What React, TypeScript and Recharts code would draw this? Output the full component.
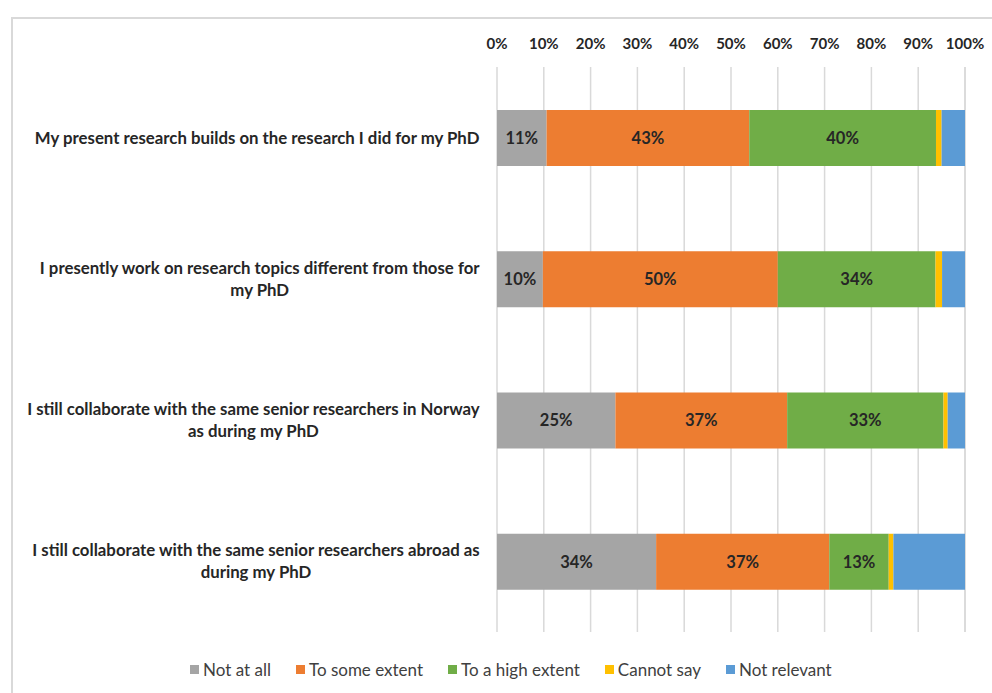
import React from "react";
import { BarChart, Bar, XAxis, YAxis, CartesianGrid, LabelList, Legend } from "recharts";

const categories = [
  "My present research builds on the research I did for my PhD",
  "I presently work on research topics different from those for\nmy PhD",
  "I still collaborate with the same senior researchers in Norway\nas during my PhD",
  "I still collaborate with the same senior researchers abroad as\nduring my PhD",
];
const notAtAll = [10.6, 9.8, 25.3, 34.0];
const someExtent = [43.3, 50.2, 36.7, 37.0];
const highExtent = [39.9, 33.7, 33.4, 12.7];
const cannotSay = [1.2, 1.4, 0.9, 1.0];
const notRelevant = [5.0, 4.9, 3.7, 15.3];
const xTicks = [0, 10, 20, 30, 40, 50, 60, 70, 80, 90, 100];

const seriesNames = ["Not at all", "To some extent", "To a high extent", "Cannot say", "Not relevant"];
const seriesKeys = ["notAtAll", "someExtent", "highExtent", "cannotSay", "notRelevant"];
const seriesColors = ["#A5A5A5", "#ED7D31", "#70AD47", "#FFC000", "#5B9BD5"];
const seriesLabeled = [true, true, true, false, false];

const data = categories.map((c, i) => ({
  category: c,
  notAtAll: notAtAll[i],
  someExtent: someExtent[i],
  highExtent: highExtent[i],
  cannotSay: cannotSay[i],
  notRelevant: notRelevant[i],
}));

const FONT = "Lato, 'Open Sans', sans-serif";
const CAT_SIZE = 16.8;
const LABEL_FONT = `bold ${CAT_SIZE}px Lato`;

let ctx: CanvasRenderingContext2D | null = null;
function measure(t: string): number {
  if (!ctx) {
    const c = document.createElement("canvas");
    ctx = c.getContext("2d");
  }
  if (!ctx) return t.length * 7.5;
  ctx.font = LABEL_FONT;
  return ctx.measureText(t).width;
}

function CatTick(props: any) {
  const { x, y, payload } = props;
  const lines = String(payload.value).split("\n");
  const maxW = Math.max(...lines.map(measure));
  const right = x - 9;
  const cx = right - maxW / 2;
  const lh = 22;
  const y0 = y - ((lines.length - 1) * lh) / 2;
  return (
    <text textAnchor="middle" fontFamily={FONT} fontWeight="bold" fontSize={CAT_SIZE} fill="#262626">
      {lines.map((l, i) => (
        <tspan key={i} x={cx} y={y0 + i * lh} dy="0.35em">
          {l}
        </tspan>
      ))}
    </text>
  );
}

function LegendContent() {
  return (
    <div style={{ display: "flex", alignItems: "center", fontFamily: FONT, fontSize: 17, color: "#404040", whiteSpace: "nowrap" }}>
      {seriesNames.map((n, i) => (
        <div key={n} style={{ display: "flex", alignItems: "center", marginRight: 25 }}>
          <span style={{ display: "inline-block", width: 9, height: 9, background: seriesColors[i], marginRight: 4 }} />
          <span>{n}</span>
        </div>
      ))}
    </div>
  );
}

export default function App() {
  return (
    <div style={{ position: "fixed", left: 0, top: 0, width: 992, height: 693, overflow: "hidden", background: "#fff" }}>
      <div
        style={{
          position: "absolute",
          left: 11,
          top: 17,
          width: 1200,
          height: 1000,
          borderTop: "2px solid #d9d9d9",
          borderLeft: "2px solid #d9d9d9",
        }}
      />
      <div style={{ position: "absolute", left: 0, top: 0 }}>
        <BarChart
          width={992}
          height={693}
          data={data}
          layout="vertical"
          margin={{ top: 37, right: 27, bottom: 61, left: 0 }}
          barSize={56}
        >
          <CartesianGrid horizontal={false} stroke="#d9d9d9" strokeWidth={1.5} />
          <XAxis
            type="number"
            orientation="top"
            domain={[0, 100]}
            ticks={xTicks}
            tickFormatter={(v: number) => `${v}%`}
            axisLine={false}
            tickLine={false}
            tickMargin={12}
            height={30}
            tick={{ fontFamily: FONT, fontWeight: "bold", fontSize: 15, fill: "#262626" }}
            interval={0}
          />
          <YAxis
            type="category"
            dataKey="category"
            width={497}
            axisLine={false}
            tickLine={false}
            tick={<CatTick />}
            interval={0}
          />
          {seriesKeys.map((k, i) => (
            <Bar key={k} dataKey={k} name={seriesNames[i]} stackId="a" fill={seriesColors[i]} isAnimationActive={false}>
              {seriesLabeled[i] ? (
                <LabelList
                  dataKey={k}
                  position="center"
                  formatter={(v: any) => `${Math.round(Number(v))}%`}
                  style={{ fontFamily: FONT, fontWeight: "bold", fontSize: 16.5, fill: "#262626" }}
                />
              ) : null}
            </Bar>
          ))}
          <Legend
            layout="horizontal"
            verticalAlign="middle"
            align="center"
            content={<LegendContent />}
            wrapperStyle={{ top: 659, left: 190, width: 780 }}
          />
        </BarChart>
      </div>
    </div>
  );
}
